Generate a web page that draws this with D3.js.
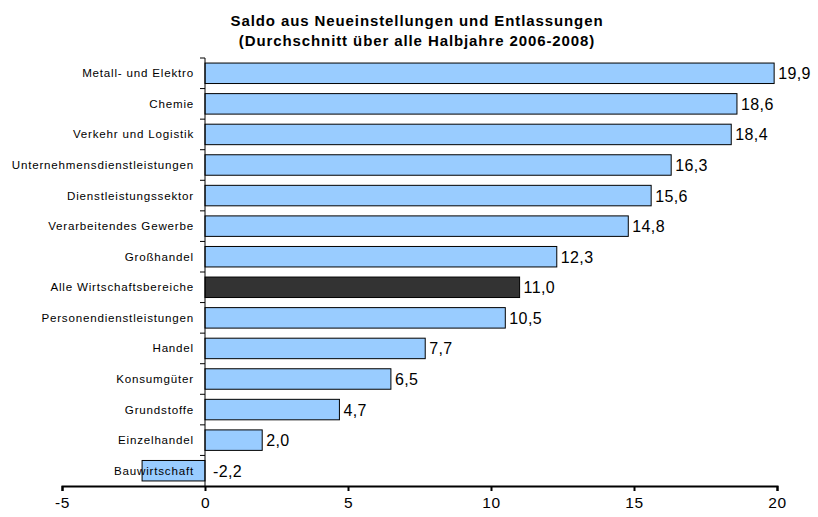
<!DOCTYPE html>
<html><head><meta charset="utf-8">
<script src="https://cdn.jsdelivr.net/npm/d3@7"></script>
<style>body{margin:0;background:#fff;}svg{display:block;font-family:"Liberation Sans",Arial,sans-serif;}</style>
</head><body>
<svg id="c" width="818" height="517"></svg>
<script>
const categories = ["Metall- und Elektro","Chemie","Verkehr und Logistik","Unternehmensdienstleistungen","Dienstleistungssektor","Verarbeitendes Gewerbe","Großhandel","Alle Wirtschaftsbereiche","Personendienstleistungen","Handel","Konsumgüter","Grundstoffe","Einzelhandel","Bauwirtschaft"];
const values = [19.9,18.6,18.4,16.3,15.6,14.8,12.3,11.0,10.5,7.7,6.5,4.7,2.0,-2.2];
const highlight = ["Alle Wirtschaftsbereiche"];
const xTicks = [-5,0,5,10,15,20];
const titleLines = ["Saldo aus Neueinstellungen und Entlassungen","(Durchschnitt über alle Halbjahre 2006-2008)"];

const svg = d3.select("#c");
const x = d3.scaleLinear().domain([-5,20]).range([62,777]);
const y = d3.scaleBand().domain(categories).range([58,486]).paddingInner(0.33).paddingOuter(0.165);
const fmt = v => d3.format(".1f")(Math.abs(v)).replace(".", ",");
const fmtSigned = v => (v<0?"-":"") + fmt(v);

svg.append("g").selectAll("text").data(titleLines).join("text")
  .attr("x",417).attr("y",(d,i)=>26+i*20).attr("text-anchor","middle")
  .attr("font-weight","bold").attr("font-size",15).attr("letter-spacing",0.9).text(d=>d);

// bars
svg.append("g").selectAll("rect").data(categories).join("rect")
  .attr("x",(d,i)=>x(Math.min(0,values[i])))
  .attr("y",d=>y(d))
  .attr("width",(d,i)=>Math.abs(x(values[i])-x(0)))
  .attr("height",y.bandwidth())
  .attr("fill",d=>highlight.includes(d)?"#333333":"#99CCFF")
  .attr("stroke","#000").attr("stroke-width",1);

// value labels
svg.append("g").selectAll("text").data(categories).join("text")
  .attr("x",(d,i)=>values[i]>=0? x(values[i])+4 : x(0)+8)
  .attr("y",d=>y(d)+y.bandwidth()/2+6)
  .attr("font-size",16).attr("letter-spacing",0.4).text((d,i)=>fmtSigned(values[i]));

// y axis line + ticks
const yg = svg.append("g");
yg.append("line").attr("x1",x(0)).attr("x2",x(0)).attr("y1",58).attr("y2",486).attr("stroke","#000").attr("stroke-width",1);
const bounds = d3.range(categories.length).map(i=>58+i*(486-58)/categories.length);
yg.selectAll("line.t").data(bounds).join("line").attr("class","t")
  .attr("x1",x(0)-5).attr("x2",x(0)).attr("y1",d=>d).attr("y2",d=>d).attr("stroke","#000");

// category labels
svg.append("g").selectAll("text").data(categories).join("text")
  .attr("x",194).attr("y",d=>y(d)+y.bandwidth()/2+4)
  .attr("text-anchor","end").attr("font-size",11.6).attr("letter-spacing",0.8).text(d=>d);

// x axis
const xg = svg.append("g").attr("transform","translate(0,486)")
  .call(d3.axisBottom(x).tickValues(xTicks).tickSize(5).tickPadding(6).tickFormat(d=>(d<0?"-":"")+Math.abs(d)));
xg.select(".domain").attr("stroke-width",2);
xg.selectAll(".tick line").attr("stroke-width",2);
xg.selectAll("text").attr("font-size",15.5).attr("letter-spacing",0.6).attr("font-family","Liberation Sans, Arial, sans-serif").attr("fill","#000");
</script>
</body></html>
